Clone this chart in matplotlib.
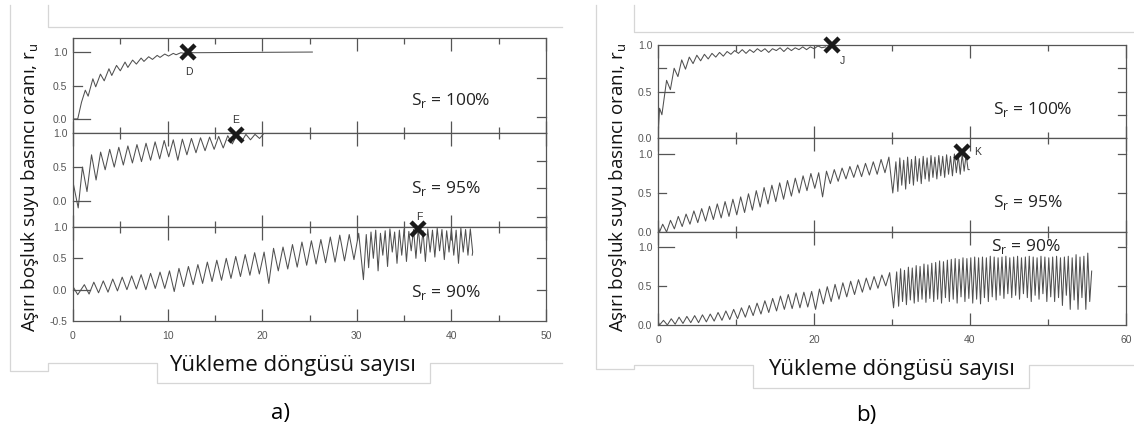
import numpy as np
import matplotlib
matplotlib.use('Agg')
import matplotlib.pyplot as plt
from matplotlib.lines import Line2D

plt.rcParams['font.family'] = ['Liberation Sans', 'DejaVu Sans']
plt.rcParams['mathtext.fontset'] = 'custom'
plt.rcParams['mathtext.rm'] = 'Open Sans'

W, H = 1134, 434

# ---- panel a, S_r = 100 % (turning points)
a100_x = [0.0, 0.5, 0.9, 1.3, 1.6, 2.1, 2.4, 2.9, 3.3, 3.8, 4.1, 4.6, 5.0, 5.5, 5.8, 6.3,
          6.7, 7.2, 7.5, 8.0, 8.4, 8.9, 9.2, 9.7, 10.1, 10.6, 10.9, 11.4, 11.8, 12.3, 12.7, 25.3]
a100_y = [0.0, 0.0, 0.25, 0.43, 0.34, 0.6, 0.48, 0.67, 0.57, 0.75, 0.65, 0.8, 0.72, 0.85, 0.77, 0.88,
          0.82, 0.91, 0.86, 0.93, 0.89, 0.95, 0.92, 0.97, 0.94, 0.98, 0.96, 0.99, 0.98, 1.0, 0.99, 1.0]

# ---- panel a, S_r = 95 % (one peak / trough per cycle)
a95_peak = [0.5, 0.68, 0.72, 0.76, 0.79, 0.81, 0.83, 0.85, 0.87, 0.89, 0.9, 0.91, 0.92, 0.93,
            0.94, 0.95, 0.96, 0.97, 0.98, 0.98]
a95_trough = [0.14, 0.31, 0.46, 0.5, 0.53, 0.56, 0.58, 0.6, 0.62, 0.65, 0.6, 0.68, 0.71, 0.74,
              0.76, 0.78, 0.84, 0.87, 0.9, 0.92]

# ---- panel a, S_r = 90 %
a90_peak = [0.08, 0.12, 0.14, 0.17, 0.2, 0.22, 0.24, 0.26, 0.28, 0.3, 0.34, 0.37, 0.4, 0.44, 0.47,
            0.5, 0.53, 0.56, 0.59, 0.6, 0.66, 0.68, 0.72, 0.76, 0.78, 0.8, 0.84, 0.87, 0.88, 0.9]
a90_trough = [-0.07, -0.05, -0.04, -0.02, 0.0, 0.01, 0.0, 0.02, 0.02, -0.03, 0.05, 0.08, 0.1, 0.13,
              0.15, 0.18, 0.21, 0.23, 0.25, 0.1, 0.3, 0.33, 0.36, 0.39, 0.41, 0.43, 0.44, 0.46, 0.48, 0.16]
a90_peak2 = [0.88, 0.92, 0.95, 0.9, 0.94, 0.97, 0.92, 0.95, 0.97, 0.93, 0.96, 0.98, 0.94, 0.97,
             0.95, 0.98, 0.96, 0.94, 0.97, 0.95, 0.98, 0.96, 0.97]
a90_trough2 = [0.35, 0.5, 0.3, 0.55, 0.37, 0.6, 0.42, 0.55, 0.45, 0.62, 0.5, 0.58, 0.45, 0.6,
               0.52, 0.62, 0.48, 0.6, 0.55, 0.42, 0.6, 0.55, 0.6]

# ---- panel b, S_r = 100 %
b100_peak = [0.62, 0.75, 0.84, 0.87, 0.89, 0.9, 0.91, 0.92, 0.93, 0.94, 0.95, 0.95, 0.96, 0.96,
             0.96, 0.97, 0.97, 0.97, 0.98, 0.98, 0.99]
b100_trough = [0.52, 0.66, 0.74, 0.8, 0.83, 0.85, 0.87, 0.88, 0.9, 0.91, 0.91, 0.92, 0.93, 0.92,
               0.94, 0.93, 0.94, 0.95, 0.95, 0.96, 0.97]

# ---- panel b, S_r = 95 %
b95_peak = [0.1, 0.15, 0.2, 0.23, 0.27, 0.3, 0.33, 0.36, 0.39, 0.42, 0.45, 0.49, 0.53, 0.57, 0.6,
            0.63, 0.66, 0.69, 0.72, 0.75, 0.76, 0.78, 0.8, 0.82, 0.84, 0.86, 0.88, 0.9, 0.93, 0.96]
b95_trough = [0.0, 0.04, 0.07, 0.1, 0.12, 0.14, 0.16, 0.18, 0.2, 0.22, 0.25, 0.28, 0.32, 0.36, 0.39,
              0.42, 0.46, 0.5, 0.53, 0.56, 0.45, 0.62, 0.65, 0.68, 0.7, 0.71, 0.73, 0.74, 0.76, 0.5]
b95_peak2 = [0.9, 0.95, 0.92, 0.96, 0.93, 0.97, 0.94, 0.97, 0.95, 0.98, 0.96, 0.98, 0.97, 0.99,
             0.97, 1.0, 0.98, 1.0, 0.99]
b95_trough2 = [0.52, 0.6, 0.55, 0.62, 0.6, 0.65, 0.62, 0.68, 0.65, 0.7, 0.68, 0.72, 0.7, 0.74,
               0.72, 0.76, 0.74, 0.78, 0.8]

# ---- panel b, S_r = 90 %
b90_peak = [0.06, 0.08, 0.1, 0.11, 0.12, 0.13, 0.14, 0.16, 0.18, 0.2, 0.22, 0.25, 0.28, 0.31, 0.34,
            0.37, 0.39, 0.41, 0.42, 0.43, 0.46, 0.49, 0.52, 0.54, 0.56, 0.58, 0.6, 0.62, 0.64, 0.67]
b90_trough = [0.0, 0.01, 0.02, 0.03, 0.03, 0.04, 0.05, 0.06, 0.07, 0.08, 0.1, 0.12, 0.14, 0.16, 0.18,
              0.2, 0.21, 0.22, 0.23, 0.2, 0.27, 0.3, 0.33, 0.36, 0.39, 0.42, 0.45, 0.47, 0.5, 0.22]
b90_peak2 = [0.68, 0.72, 0.7, 0.74, 0.73, 0.76, 0.75, 0.78, 0.77, 0.79,
             0.8, 0.82, 0.81, 0.83, 0.84, 0.85, 0.84, 0.86, 0.85, 0.86,
             0.87, 0.86, 0.87, 0.86, 0.88, 0.87, 0.86, 0.87, 0.88, 0.86,
             0.87, 0.88, 0.86, 0.87, 0.88, 0.87, 0.86, 0.88, 0.87, 0.86,
             0.87, 0.88, 0.86, 0.87, 0.88, 0.86, 0.9, 0.87, 0.88, 0.92]
b90_trough2 = [0.24, 0.3, 0.26, 0.32, 0.28, 0.3, 0.33, 0.29, 0.34, 0.3,
               0.33, 0.28, 0.35, 0.3, 0.33, 0.28, 0.36, 0.3, 0.34, 0.28,
               0.33, 0.27, 0.35, 0.3, 0.36, 0.32, 0.38, 0.34, 0.4, 0.35,
               0.38, 0.33, 0.4, 0.35, 0.3, 0.38, 0.33, 0.4, 0.3, 0.36,
               0.3, 0.35, 0.25, 0.38, 0.2, 0.32, 0.2, 0.35, 0.2, 0.3]

# failure points (x marks)
marks_a = [(12.2, 1.0, 'D'), (17.2, 0.97, 'E'), (36.5, 0.97, 'F')]
marks_b = [(22.3, 1.0, 'J'), (39.0, 1.03, 'K')]


def zigzag(x0, step, peaks, troughs):
    xs, ys = [], []
    for i, (p, t) in enumerate(zip(peaks, troughs)):
        xs += [x0 + i * step, x0 + (i + 0.5) * step]
        ys += [p, t]
    return xs, ys


def series(start, parts, end):
    xs = [p[0] for p in start]
    ys = [p[1] for p in start]
    for x0, step, pk, tr in parts:
        zx, zy = zigzag(x0, step, pk, tr)
        xs += zx
        ys += zy
    xs += [end[0]]
    ys += [end[1]]
    return xs, ys


fig = plt.figure(figsize=(W / 100, H / 100), dpi=100)

LINE = '#505050'
SPINE = '#555555'


def make_axes(box, ylim, xmax, xmajor, xminor, ylab, ylong, yshort, yright, show_x):
    l, t, r, b = box
    ax = fig.add_axes([l / W, 1 - b / H, (r - l) / W, (b - t) / H])
    ax.set_xlim(0, xmax)
    ax.set_ylim(*ylim)
    for s in ax.spines.values():
        s.set_color(SPINE)
        s.set_linewidth(0.9)
    ax.set_xticks(np.arange(0, xmax + 0.1, xmajor))
    ax.set_xticks(np.arange(0, xmax + 0.1, xminor), minor=True)
    ax.tick_params(axis='x', which='both', direction='in', top=True, bottom=True,
                   color=SPINE, width=0.9, labelsize=7.5, labelcolor='#555555', pad=7,
                   labelbottom=show_x)
    ax.tick_params(axis='x', which='major', length=9)
    ax.tick_params(axis='x', which='minor', length=4.5)
    ax.set_yticks(ylab)
    ax.set_yticklabels(['%.1f' % v for v in ylab])
    ax.tick_params(axis='y', which='major', direction='in', length=0, labelsize=7.5,
                   labelcolor='#555555', pad=4)
    for v in ylong:
        ax.plot([0, xmax * 0.035], [v, v], color=SPINE, lw=0.9, clip_on=False)
    for v in yshort:
        ax.plot([0, xmax * 0.018], [v, v], color=SPINE, lw=0.9, clip_on=False)
    for v in yright:
        ax.plot([xmax, xmax * 0.982], [v, v], color=SPINE, lw=0.9, clip_on=False)
    return ax


def sr_label(ax, x, y, pct):
    ax.text(x, y, r'S$_\mathregular{r}$ = %d%%' % pct, fontsize=12.5, family='Open Sans',
            ha='left', va='center', color='#222222')


# ---- panel a
axa1 = make_axes((73, 38, 546, 133), (-0.21, 1.21), 50, 10, 5,
                 [0.0, 0.5, 1.0], [0.0, 1.0], [0.5], [0.61, 0.03], False)
axa2 = make_axes((73, 133, 546, 227), (-0.38, 1.0), 50, 10, 5,
                 [0.0, 0.5, 1.0], [0.0], [0.5], [0.59, 0.19, -0.24], False)
axa3 = make_axes((73, 227, 546, 321), (-0.5, 1.0), 50, 10, 5,
                 [-0.5, 0.0, 0.5, 1.0], [0.0], [0.5], [0.51, 0.0], True)

axa1.plot(a100_x, a100_y, color=LINE, lw=0.75)
x, y = series([(0, 0.28), (0.55, -0.1)], [(1.0, 0.96, a95_peak, a95_trough)], (20.1, 0.98))
axa2.plot(x, y, color=LINE, lw=0.75)
x, y = series([(0, 0.05), (0.5, -0.08)],
              [(1.2, 1.0, a90_peak, a90_trough), (31.0, 0.5, a90_peak2, a90_trough2)],
              (42.2, 0.55))
axa3.plot(x, y, color=LINE, lw=0.75)

# ---- panel b
axb1 = make_axes((658, 45, 1126, 138), (0.0, 1.0), 60, 20, 10,
                 [0.0, 0.5, 1.0], [0.5], [0.75], [0.75, 0.5, 0.25], False)
axb2 = make_axes((658, 138, 1126, 232), (0.0, 1.205), 60, 20, 10,
                 [0.0, 0.5, 1.0], [1.0], [0.5], [1.0, 0.5], False)
axb3 = make_axes((658, 232, 1126, 325), (0.0, 1.19), 60, 20, 10,
                 [0.0, 0.5, 1.0], [1.0], [0.5], [1.0, 0.5], True)

x, y = series([(0, 0.0), (0.2, 0.32), (0.5, 0.25)], [(1.1, 0.97, b100_peak, b100_trough)],
              (21.5, 0.98))
axb1.plot(x, y, color=LINE, lw=0.75)
x, y = series([(0, 0.09), (0.2, 0.0)],
              [(0.6, 1.0, b95_peak, b95_trough), (30.5, 0.5, b95_peak2, b95_trough2)],
              (39.9, 0.8))
axb2.plot(x, y, color=LINE, lw=0.75)
x, y = series([(0, 0.05), (0.2, 0.0)],
              [(0.7, 1.0, b90_peak, b90_trough), (30.6, 0.5, b90_peak2, b90_trough2)],
              (55.6, 0.69))
axb3.plot(x, y, color=LINE, lw=0.75)

# x marks and letters
mark_axes = [axa1, axa2, axa3, axb1, axb2]
letter_pos = [(12.2, 0.7), (17.2, 1.19), (36.6, 1.16), (23.6, 0.83), (41.0, 1.03)]
for ax, (mx, my, lab), (lx, ly) in zip(mark_axes, marks_a + marks_b, letter_pos):
    ax.plot(mx, my, marker='x', ms=10, mew=3.2, color='#1a1a1a', clip_on=False, zorder=5)
    ax.text(lx, ly, lab, fontsize=7.5, color='#333333', ha='center', va='center', clip_on=False)

sr_label(axa1, 35.7, 0.28, 100)
sr_label(axa2, 35.7, 0.18, 95)
sr_label(axa3, 35.7, -0.05, 90)
sr_label(axb1, 42.9, 0.31, 100)
sr_label(axb2, 42.9, 0.38, 95)
sr_label(axb3, 42.7, 1.0, 90)

# axis titles and panel letters
ylab = r'Aşırı boşluk suyu basıncı oranı, r$_\mathregular{u}$'
fig.text(30 / W, 1 - 187 / H, ylab, rotation=90, fontsize=13.5, family='Open Sans',
         ha='center', va='center', color='#111111')
fig.text(618 / W, 1 - 187 / H, ylab, rotation=90, fontsize=13.5, family='Open Sans',
         ha='center', va='center', color='#111111')
fig.text(292 / W, 1 - 365 / H, 'Yükleme döngüsü sayısı', fontsize=16, family='Open Sans',
         ha='center', va='center', color='#111111')
fig.text(891 / W, 1 - 369 / H, 'Yükleme döngüsü sayısı', fontsize=16, family='Open Sans',
         ha='center', va='center', color='#111111')
fig.text(280 / W, 1 - 413 / H, 'a)', fontsize=16, family='Open Sans', ha='center', va='center')
fig.text(866 / W, 1 - 415 / H, 'b)', fontsize=16, family='Open Sans', ha='center', va='center')

# faint outlines of the pasted image boxes
outline_a = [[(10, 5), (10, 371), (48, 371), (48, 363), (157, 363), (157, 383), (430, 383),
              (430, 363), (562, 363)],
             [(48, 5), (48, 27), (562, 27)]]
outline_b = [[(596, 5), (596, 369), (634, 369), (634, 365), (753, 365), (753, 388), (1029, 388),
              (1029, 365), (1134, 365)],
             [(634, 5), (634, 32), (1134, 32)]]
for path in outline_a + outline_b:
    fig.add_artist(Line2D([p[0] / W for p in path], [1 - p[1] / H for p in path],
                          color='#d6d6d6', lw=0.9))

fig.savefig('out.png', dpi=100)
